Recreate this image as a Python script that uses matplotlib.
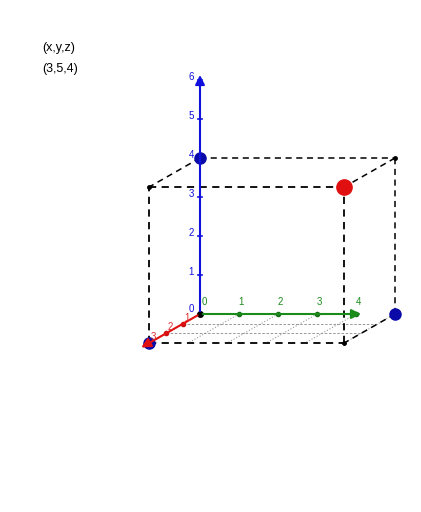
import numpy as np
import matplotlib
matplotlib.use('Agg')
import matplotlib.pyplot as plt

plt.rcParams['font.family'] = ['Liberation Sans', 'DejaVu Sans']

# point and labels
point = (3, 5, 4)
x_ticks = [1, 2, 3]
y_ticks = [1, 2, 3, 4]
z_ticks = [1, 2, 3, 4, 5, 6]

O = np.array([200.0, 314.0])
ex = np.array([-17.0, 9.7])
ey = np.array([39.0, 0.0])
ez = np.array([0.0, -39.0])

def P(x, y, z):
    return O + x * ex + y * ey + z * ez

fig = plt.figure(figsize=(4.21, 5.12), dpi=100)
ax = fig.add_axes([0, 0, 1, 1])
ax.set_xlim(0, 421)
ax.set_ylim(512, 0)
ax.axis('off')

px, py, pz = point

# dotted grid on xy plane
for j in range(0, py + 1):
    a, b = P(0, j, 0), P(px, j, 0)
    ax.plot([a[0], b[0]], [a[1], b[1]], ':', color='#999999', lw=0.8)
for i in range(1, px):
    a, b = P(i, 0, 0), P(i, py, 0)
    ax.plot([a[0], b[0]], [a[1], b[1]], '--', color='#888888', lw=0.6, dashes=(3, 2))

# box edges
corners = {}
for i in (0, px):
    for j in (0, py):
        for k in (0, pz):
            corners[(i, j, k)] = P(i, j, k)
edges = []
for c in corners:
    for d in corners:
        if sum(a != b for a, b in zip(c, d)) == 1 and c < d:
            edges.append((c, d))
for c, d in edges:
    if c == (0, 0, 0):
        continue
    a, b = corners[c], corners[d]
    lw = 1.3 if (c[0] == px and d[0] == px) else 1.1
    ax.plot([a[0], b[0]], [a[1], b[1]], '--', color='black', lw=lw, dashes=(4, 3))
for c in corners:
    if c != (0, 0, 0):
        q = corners[c]
        ax.plot(q[0], q[1], 'o', color='black', ms=2.5)

# axes
zt = P(0, 0, 6.2)
ax.annotate('', xy=zt, xytext=O, arrowprops=dict(arrowstyle='-|>', color='#1010dd', lw=1.5, mutation_scale=14))
yt = P(0, 4.2, 0)
ax.annotate('', xy=yt, xytext=O, arrowprops=dict(arrowstyle='-|>', color='#1a8c1a', lw=1.5, mutation_scale=14))
xt = P(3.6, 0, 0)
ax.annotate('', xy=xt, xytext=O, arrowprops=dict(arrowstyle='-|>', color='#e01010', lw=1.5, mutation_scale=14))

for k in z_ticks:
    q = P(0, 0, k)
    ax.plot([q[0] - 2, q[0] + 2], [q[1], q[1]], color='#1010dd', lw=1.2)
    ax.text(q[0] - 6, q[1] - 3, str(k), color='#1010dd', fontsize=7, ha='right', va='center')
ax.text(O[0] - 6, O[1] - 5, '0', color='#1010dd', fontsize=7, ha='right', va='center')
for j in y_ticks:
    q = P(0, j, 0)
    ax.plot(q[0], q[1], 'o', color='#1a6e1a', ms=3)
    ax.text(q[0] + 2, q[1] - 9, str(j), color='#1a8c1a', fontsize=7, ha='center')
ax.text(O[0] + 4, O[1] - 9, '0', color='#1a8c1a', fontsize=7, ha='center')
for i in x_ticks:
    q = P(i, 0, 0)
    ax.plot(q[0], q[1], 'o', color='#cc1010', ms=3)
    ax.text(q[0] + 4, q[1] - 3, str(i), color='#e03030', fontsize=7, ha='center')
ax.plot(O[0], O[1], 'o', color='black', ms=4)

# projections of point on axes
for q in (P(0, 0, pz), P(px, 0, 0), P(0, py, 0)):
    ax.plot(q[0], q[1], 'o', color='#0a0aa8', ms=8)
q = P(px, py, pz)
ax.plot(q[0], q[1], 'o', color='#e01010', ms=11)

ax.text(42, 48, '(x,y,z)', fontsize=9, va='center')
ax.text(42, 69, '(%d,%d,%d)' % point, fontsize=9, va='center')

fig.savefig('out.png', dpi=100)
